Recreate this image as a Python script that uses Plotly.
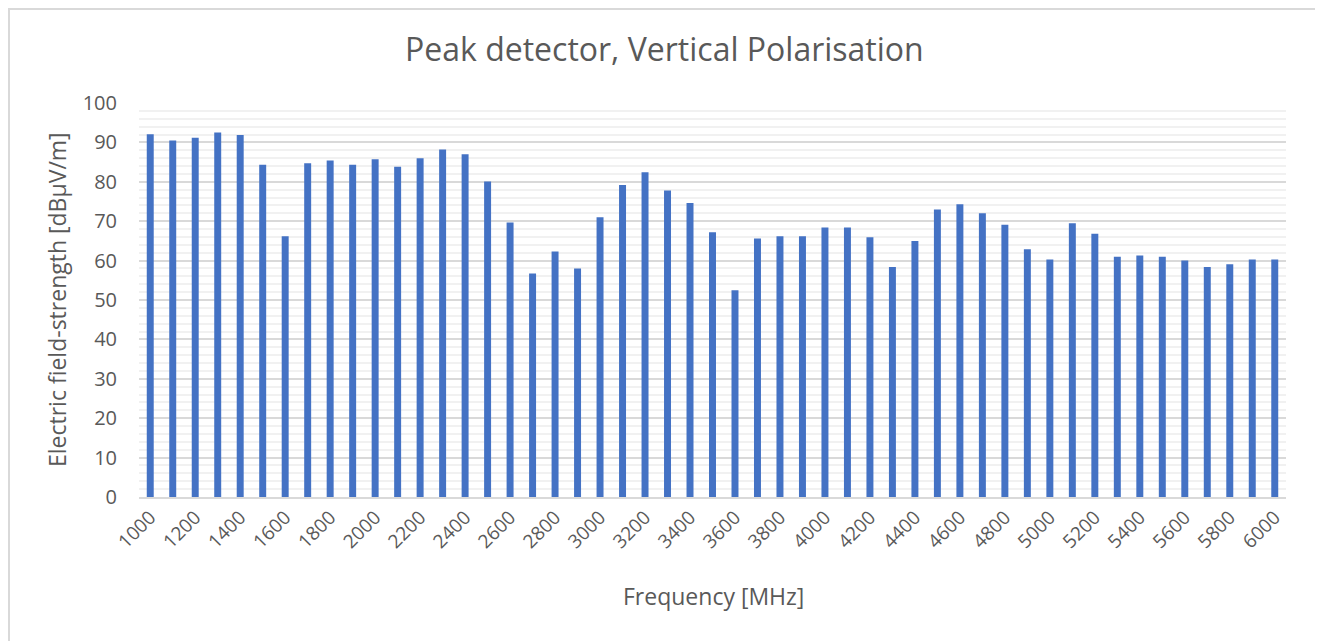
import plotly.graph_objects as go

freqs = list(range(1000, 6001, 100))
values = [92.1, 90.5, 91.2, 92.5, 91.9, 84.3, 66.2, 84.7, 85.4, 84.3,
          85.7, 83.8, 86.0, 88.2, 87.0, 80.1, 69.7, 56.7, 62.3, 58.0,
          71.0, 79.2, 82.4, 77.8, 74.6, 67.2, 52.5, 65.6, 66.2, 66.2,
          68.4, 68.4, 65.9, 58.4, 65.0, 73.0, 74.3, 72.0, 69.1, 62.9,
          60.3, 69.5, 66.8, 61.0, 61.3, 61.0, 60.0, 58.4, 59.1, 60.3,
          60.3]
categories = [str(f) for f in freqs]
tick_labels = [str(f) for f in range(1000, 6001, 200)]

title_text = "Peak detector, Vertical Polarisation"
x_title = "Frequency [MHz]"
y_title = "Electric field-strength [dBµV/m]"

FONT = "'Open Sans', sans-serif"
GRAY = "#595959"

# page offset of the figure (default body margin)
OFF = 8
W, H = 1323 - OFF, 641 - OFF
L, R, T, B = 139 - OFF, 1323 - 1286, 103 - OFF, 641 - 497
PW = 1286 - 139
PH = 497 - 103


def px(page_x):
    return (page_x - 139) / PW


def py(page_y):
    return (497 - page_y) / PH


fig = go.Figure()
fig.add_trace(go.Bar(x=categories, y=values, marker_color="#4472C4",
                     marker_line_width=0, width=0.31))

fig.update_layout(
    width=W, height=H,
    margin=dict(l=L, r=R, t=T, b=B, pad=0),
    paper_bgcolor="white", plot_bgcolor="white",
    showlegend=False,
    font=dict(family=FONT, color=GRAY),
    xaxis=dict(type="category", tickmode="array", tickvals=tick_labels,
               ticktext=tick_labels, tickangle=-45, showgrid=False,
               showline=True, linecolor="#d9d9d9", linewidth=1.5,
               ticks="", tickfont=dict(size=19, color=GRAY, family=FONT),
               range=[-0.5, len(categories) - 0.5]),
    yaxis=dict(range=[0, 100], dtick=10, tick0=0, showgrid=True,
               gridcolor="#d9d9d9", gridwidth=1.5, zeroline=False,
               showline=False, ticks="",
               tickfont=dict(size=20, color=GRAY, family=FONT),
               ticklabelstandoff=21,
               minor=dict(dtick=2, tick0=0, showgrid=True,
                          gridcolor="#f1f1f1", gridwidth=1.5)),
    annotations=[
        dict(text=title_text, x=px(664), xref="paper", y=py(49),
             yref="paper", xanchor="center", yanchor="middle",
             showarrow=False, font=dict(size=32, color=GRAY, family=FONT)),
        dict(text=x_title, x=px(713), xref="paper", y=py(596),
             yref="paper", xanchor="center", yanchor="middle",
             showarrow=False, font=dict(size=23, color=GRAY, family=FONT)),
        dict(text=y_title, x=px(57), xref="paper", y=py(300),
             yref="paper", xanchor="center", yanchor="middle",
             textangle=-90, showarrow=False,
             font=dict(size=23, color=GRAY, family=FONT)),
    ],
    shapes=[dict(type="rect", xref="paper", yref="paper",
                 x0=px(OFF + 1), x1=px(1321),
                 y0=py(660), y1=py(OFF + 1),
                 line=dict(color="#d9d9d9", width=2), layer="below")],
)

fig.write_html("out.html")
